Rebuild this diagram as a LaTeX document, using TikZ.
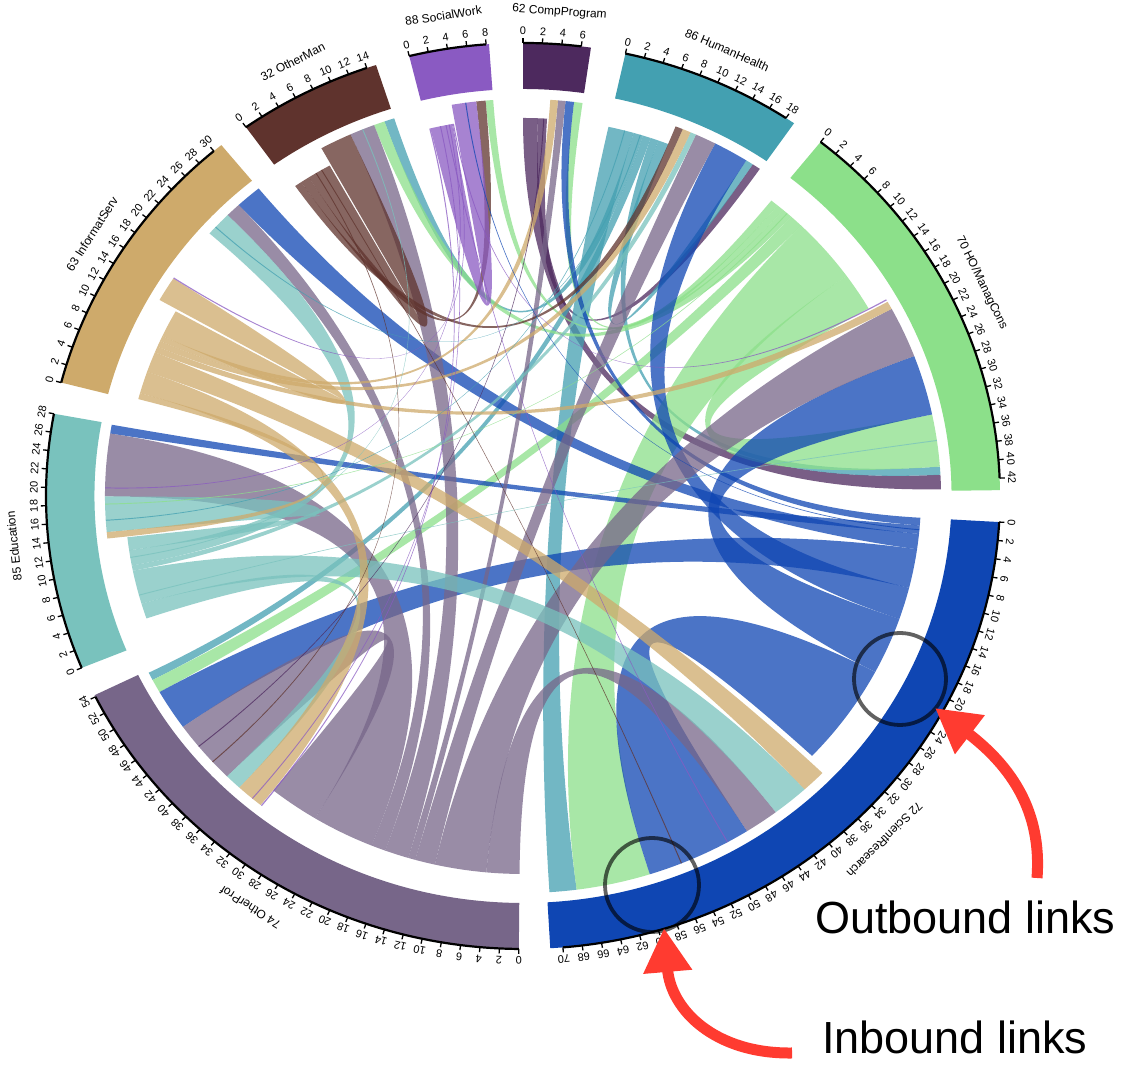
\documentclass[tikz,border=0pt]{standalone}
\usepackage{fontspec}
\setmainfont{Liberation Sans}
\usetikzlibrary{arrows.meta}

% sector colours
\definecolor{cCP}{HTML}{4D295E}
\definecolor{cHH}{HTML}{43A0B1}
\definecolor{cHO}{HTML}{8CE08A}
\definecolor{cSR}{HTML}{0F46B3}
\definecolor{cOP}{HTML}{776689}
\definecolor{cED}{HTML}{79C2BD}
\definecolor{cIS}{HTML}{CEAA6B}
\definecolor{cOM}{HTML}{5F332D}
\definecolor{cSW}{HTML}{8A5AC2}
\definecolor{cRed}{HTML}{FF3B30}

% layout: degrees per unit, radii
\newcommand{\unitdeg}{1.17}
\newcommand{\rAxis}{453pt}
\newcommand{\rBand}{407pt}
\newcommand{\rIn}{397pt}
\newcommand{\rOut}{378pt}
\newcommand{\rInC}{132.3pt}
\newcommand{\rOutC}{126pt}
\newcommand{\rTick}{458pt}
\newcommand{\rTickLab}{461pt}
\newcommand{\rName}{482pt}

% start angle of every sector (units run clockwise)
\newcommand{\stCP}{90}
\newcommand{\stHH}{77.6}
\newcommand{\stHO}{51.4}
\newcommand{\stSR}{-3.3}
\newcommand{\stOP}{269.5}
\newcommand{\stED}{202.3}
\newcommand{\stIS}{165.5}
\newcommand{\stOM}{125.5}
\newcommand{\stSW}{103.8}

% ribbon: colour, source start, u1, u2, target start, v1, v2
\newcommand{\chordrib}[7]{%
  \pgfmathsetmacro{\chA}{#2-\unitdeg*#3}%
  \pgfmathsetmacro{\chB}{#2-\unitdeg*#4}%
  \pgfmathsetmacro{\chC}{#5-\unitdeg*#6}%
  \pgfmathsetmacro{\chD}{#5-\unitdeg*#7}%
  \fill[#1,fill opacity=0.75]
    (\chA:\rOut) arc[start angle=\chA,end angle=\chB,radius=\rOut]
    .. controls (\chB:\rOutC) and (\chC:\rInC) .. (\chC:\rIn)
    arc[start angle=\chC,end angle=\chD,radius=\rIn]
    .. controls (\chD:\rInC) and (\chA:\rOutC) .. (\chA:\rOut) -- cycle;
}

% sector band with axis, ticks and labels: colour, start, size, last tick, title, id
\newcommand{\drawsector}[6]{%
  \pgfmathsetmacro{\secE}{#2-\unitdeg*#3}%
  \pgfmathsetmacro{\secT}{#2-\unitdeg*#4}%
  \pgfmathsetmacro{\secM}{#2-\unitdeg*#3/2}%
  \fill[#1] (#2:\rAxis) arc[start angle=#2,end angle=\secE,radius=\rAxis]
    -- (\secE:\rBand) arc[start angle=\secE,end angle=#2,radius=\rBand] -- cycle;
  \draw[axisline] (#2:\rAxis) arc[start angle=#2,end angle=\secT,radius=\rAxis];
  \foreach \k in {0,2,...,#4}{%
    \pgfmathsetmacro{\tickA}{#2-\unitdeg*\k}%
    \draw[tickline] (\tickA:\rAxis) -- (\tickA:\rTick);
    \node[ticklabel,rotate=\tickA-90] (#6-\k) at (\tickA:\rTickLab) {\k};
  }
  \node[seclabel,rotate=\secM-90] (#6-title) at (\secM:\rName) {#5};
}

\begin{document}
\begin{tikzpicture}[x=1pt,y=1pt,
  axisline/.style={line width=2.2pt,black},
  tickline/.style={line width=1.3pt,black},
  ticklabel/.style={font=\fontsize{11}{12}\selectfont,inner sep=0pt,anchor=base},
  seclabel/.style={font=\fontsize{12}{13}\selectfont,inner sep=0pt,anchor=base},
  hlring/.style={circle,draw=black,draw opacity=0.62,line width=3.8pt,inner sep=0pt},
  redarrow/.style={draw=cRed,line width=11pt,line cap=butt,-{Triangle[length=44pt,width=46pt]}},
  annot/.style={font=\fontsize{45}{50}\selectfont,inner sep=0pt}]

\useasboundingbox (0,0) rectangle (1124,1067);
\fill[white] (0,0) rectangle (1124,1067);

\begin{scope}[shift={(523,571)},xscale=1.053]
  % CompProgram
  \chordrib{cCP}{\stCP}{0}{1.84}{\stHO}{41.3}{43.1}
  \chordrib{cCP}{\stCP}{1.84}{2.96}{\stHH}{17.9}{18.9}
  % HumanHealth
  \chordrib{cHH}{\stHH}{0}{3.2}{\stSR}{67.8}{71.0}
  \chordrib{cHH}{\stHH}{3.2}{4.4}{\stOM}{13.8}{15.0}
  \chordrib{cHH}{\stHH}{4.4}{5.4}{\stOP}{52.9}{53.9}
  \chordrib{cHH}{\stHH}{5.4}{6.4}{\stHO}{40.3}{41.3}
  \chordrib{cHH}{\stHH}{6.4}{7.7}{\stHH}{17.0}{17.9}
  % HO/ManagCons
  \chordrib{cHO}{\stHO}{0}{1.0}{\stCP}{6.0}{7.0}
  \chordrib{cHO}{\stHO}{1.0}{1.9}{\stSW}{7.4}{8.3}
  \chordrib{cHO}{\stHO}{1.9}{3.2}{\stOM}{12.5}{13.8}
  \chordrib{cHO}{\stHO}{3.2}{4.9}{\stOP}{51.2}{52.9}
  \chordrib{cHO}{\stHO}{4.9}{13.5}{\stSR}{59.0}{67.8}
  \chordrib{cHO}{\stHO}{13.5}{18.5}{\stHO}{33.8}{40.3}
  % ScientResearch
  \chordrib{cSR}{\stSR}{0}{1.0}{\stCP}{5.0}{6.0}
  \chordrib{cSR}{\stSR}{1.0}{2.1}{\stED}{26.8}{27.9}
  \chordrib{cSR}{\stSR}{2.1}{4.1}{\stIS}{27.9}{31.0}
  \chordrib{cSR}{\stSR}{4.1}{9.2}{\stOP}{46.1}{51.2}
  \chordrib{cSR}{\stSR}{9.2}{13.4}{\stHH}{12.8}{17.0}
  \chordrib{cSR}{\stSR}{13.4}{20.9}{\stHO}{26.3}{33.8}
  \chordrib{cSR}{\stSR}{20.9}{34.3}{\stSR}{46.4}{59.0}
  % OtherProf
  \chordrib{cOP}{\stOP}{0}{4.1}{\stSR}{42.3}{46.4}
  \chordrib{cOP}{\stOP}{4.1}{10.5}{\stHO}{19.9}{26.3}
  \chordrib{cOP}{\stOP}{10.5}{13.0}{\stHH}{10.3}{12.8}
  \chordrib{cOP}{\stOP}{13.0}{13.9}{\stCP}{4.1}{5.0}
  \chordrib{cOP}{\stOP}{13.9}{16.9}{\stOM}{9.5}{12.5}
  \chordrib{cOP}{\stOP}{16.9}{18.7}{\stIS}{26.1}{27.9}
  \chordrib{cOP}{\stOP}{18.7}{26.5}{\stED}{19.0}{26.8}
  \chordrib{cOP}{\stOP}{26.5}{32.8}{\stOP}{38.1}{46.1}
  % Education
  \chordrib{cED}{\stED}{2.9}{4.9}{\stOP}{36.1}{38.1}
  \chordrib{cED}{\stED}{4.9}{9.3}{\stSR}{37.9}{42.3}
  \chordrib{cED}{\stED}{9.3}{10.0}{\stHH}{9.6}{10.3}
  \chordrib{cED}{\stED}{10.0}{12.0}{\stIS}{23.0}{26.1}
  \chordrib{cED}{\stED}{12.0}{13.7}{\stED}{14.6}{19.0}
  % InformatServ
  \chordrib{cIS}{\stIS}{0.3}{1.1}{\stED}{13.8}{14.6}
  \chordrib{cIS}{\stIS}{1.1}{4.0}{\stOP}{32.8}{36.1}
  \chordrib{cIS}{\stIS}{4.0}{6.7}{\stSR}{35.0}{37.9}
  \chordrib{cIS}{\stIS}{6.7}{7.5}{\stHO}{18.9}{19.9}
  \chordrib{cIS}{\stIS}{7.5}{8.3}{\stHH}{8.6}{9.6}
  \chordrib{cIS}{\stIS}{8.3}{9.0}{\stCP}{3.2}{4.1}
  \chordrib{cIS}{\stIS}{9.0}{12.6}{\stIS}{12.9}{16.0}
  % OtherMan
  \chordrib{cOM}{\stOM}{0.5}{1.4}{\stHH}{7.7}{8.6}
  \chordrib{cOM}{\stOM}{1.4}{2.5}{\stSW}{6.3}{7.4}
  \chordrib{cOM}{\stOM}{2.5}{5.5}{\stOM}{5.7}{9.5}
  % SocialWork
  \chordrib{cSW}{\stSW}{0.3}{3.0}{\stSW}{3.4}{6.3}
  % thin links
  \chordrib{cSW}{\stSW}{3.0}{3.12}{\stIS}{16.0}{16.15}
  \chordrib{cSW}{\stSW}{3.12}{3.25}{\stHO}{18.55}{18.7}
  \chordrib{cSW}{\stSW}{0.15}{0.3}{\stOP}{32.6}{32.75}
  \chordrib{cSW}{\stSW}{1.5}{1.62}{\stOP}{34.0}{34.12}
  \chordrib{cSW}{\stSW}{2.2}{2.32}{\stSR}{49.0}{49.12}
  \chordrib{cSW}{\stSW}{2.6}{2.72}{\stED}{20.0}{20.12}
  \chordrib{cOM}{\stOM}{3.5}{3.62}{\stOP}{40.5}{40.62}
  \chordrib{cOM}{\stOM}{4.3}{4.42}{\stSR}{55.0}{55.12}
  \chordrib{cHH}{\stHH}{2.0}{2.12}{\stED}{16.0}{16.12}
  \chordrib{cHH}{\stHH}{4.0}{4.12}{\stIS}{24.0}{24.12}
  \chordrib{cED}{\stED}{6.0}{6.12}{\stHO}{37.0}{37.12}
  \chordrib{cED}{\stED}{11.0}{11.12}{\stOM}{11.0}{11.12}
  \chordrib{cSR}{\stSR}{1.5}{1.62}{\stSW}{5.0}{5.12}
  \chordrib{cHO}{\stHO}{2.5}{2.62}{\stED}{18.0}{18.12}
  \chordrib{cCP}{\stCP}{2.5}{2.62}{\stOP}{43.0}{43.12}

  % sector bands
  \drawsector{cCP}{\stCP}{7}{6}{62 CompProgram}{CP}
  \drawsector{cHH}{\stHH}{19}{18}{86 HumanHealth}{HH}
  \drawsector{cHO}{\stHO}{43.3}{42}{70 HO/ManagCons}{HO}
  \drawsector{cSR}{\stSR}{71.3}{70}{72 ScientResearch}{SR}
  \drawsector{cOP}{\stOP}{54.2}{54}{74 OtherProf}{OP}
  \drawsector{cED}{\stED}{28}{28}{85 Education}{ED}
  \drawsector{cIS}{\stIS}{31}{30}{63 InformatServ}{IS}
  \drawsector{cOM}{\stOM}{15}{14}{32 OtherMan}{OM}
  \drawsector{cSW}{\stSW}{8.3}{8}{88 SocialWork}{SW}
\end{scope}

% highlight rings
\node[hlring,minimum size=92pt] (outring) at (900,388) {};
\node[hlring,minimum size=94pt] (inring) at (652,182) {};

% annotation arrows and texts
\coordinate (outtail) at (1037,189);
\coordinate (outtip) at (935,359);
\coordinate (intail) at (792,14);
\coordinate (intip) at (664,139);
\draw[redarrow] (outtail) .. controls (1042,255) and (1012,300) .. (outtip);
\draw[redarrow] (intail) .. controls (715,13) and (671,57) .. (intip);
\node[annot,anchor=base west] (outtext) at (815,133) {Outbound links};
\node[annot,anchor=base west] (intext) at (822,13) {Inbound links};
\end{tikzpicture}
\end{document}
